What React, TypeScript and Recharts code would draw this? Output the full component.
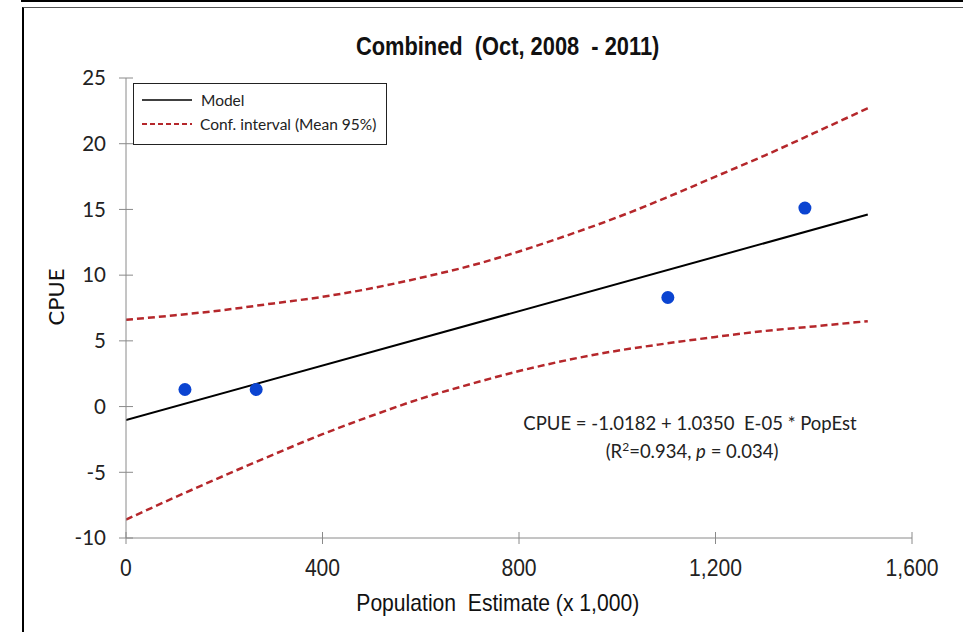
import React from 'react'
import { ComposedChart, Line, Scatter, XAxis, YAxis } from 'recharts'

// observed points (x in thousands)
const popEst = [120, 265, 1103, 1382]
const cpue = [1.3, 1.3, 8.3, 15.1]

// fitted model line
const modelX = [0, 1510]
const modelY = [-1.02, 14.61]

// 95% confidence band
const ciX = [0, 100, 200, 300, 400, 500, 600, 700, 800, 900, 1000, 1100, 1200, 1300, 1400, 1510]
const ciUpper = [6.6, 6.95, 7.35, 7.85, 8.35, 9.0, 9.8, 10.7, 11.8, 13.05, 14.4, 15.9, 17.5, 19.1, 20.8, 22.7]
const ciLower = [-8.6, -6.9, -5.25, -3.65, -2.1, -0.7, 0.6, 1.7, 2.7, 3.55, 4.25, 4.8, 5.3, 5.75, 6.1, 6.5]

const xTicks = [0, 400, 800, 1200, 1600]
const yTicks = [-10, -5, 0, 5, 10, 15, 20, 25]

const points = popEst.map((x, i) => ({ x, y: cpue[i] }))
const model = modelX.map((x, i) => ({ x, y: modelY[i] }))
const upper = ciX.map((x, i) => ({ x, y: ciUpper[i] }))
const lower = ciX.map((x, i) => ({ x, y: ciLower[i] }))

const AXIS = '#8a8a8a'
const RED = '#b5272b'
const calibri = 'Lato, "Open Sans", sans-serif'
const arial = '"Liberation Sans", Arial, sans-serif'

function XTick(props: any) {
  const { x, y, payload } = props
  const axisY = y - 22
  return (
    <g>
      <line x1={x} x2={x} y1={axisY - 6} y2={axisY + 6} stroke={AXIS} />
      <text x={x} y={y} dy="0.68em" textAnchor="middle" fill="#222" fontSize={24} fontFamily={arial}
        transform={`translate(${x} 0) scale(0.88 1) translate(${-x} 0)`}>
        {payload.value.toLocaleString('en-US')}
      </text>
    </g>
  )
}

function YTick(props: any) {
  const { x, y, payload } = props
  const axisX = x + 20
  return (
    <g>
      <line x1={axisX - 7} x2={axisX + 7} y1={y} y2={y} stroke={AXIS} />
      <text x={x} y={y} dy="0.355em" textAnchor="end" fill="#222" fontSize={20.5} fontFamily={calibri}>
        {payload.value}
      </text>
    </g>
  )
}

export default function App() {
  return (
    <div style={{ position: 'absolute', left: 0, top: 0, width: 963, height: 632, background: '#fff', overflow: 'hidden' }}>
      <div style={{ position: 'absolute', left: 21, top: 0, right: 0, height: 2, background: '#000' }} />
      <div style={{ position: 'absolute', left: 22, top: 7, width: 1000, height: 700, borderLeft: '2px solid #000', borderTop: '1px solid #555' }} />

      <ComposedChart width={963} height={632} margin={{ top: 78, right: 51, bottom: 64, left: 66 }}
        style={{ position: 'absolute', left: 0, top: 0 }}>
        <XAxis type="number" dataKey="x" domain={[0, 1600]} ticks={xTicks} height={30}
          stroke={AXIS} tickLine={false} tickSize={6} tickMargin={16} tick={<XTick />} allowDataOverflow />
        <YAxis type="number" dataKey="y" domain={[-10, 25]} ticks={yTicks} width={60}
          stroke={AXIS} tickLine={false} tickSize={6} tickMargin={14} tick={<YTick />} allowDataOverflow />
        <Line data={upper} dataKey="y" type="monotone" stroke={RED} strokeWidth={2.5} strokeDasharray="7 4"
          dot={false} isAnimationActive={false} />
        <Line data={lower} dataKey="y" type="monotone" stroke={RED} strokeWidth={2.5} strokeDasharray="7 4"
          dot={false} isAnimationActive={false} />
        <Line data={model} dataKey="y" type="linear" stroke="#000" strokeWidth={2}
          dot={false} isAnimationActive={false} />
        <Scatter data={points} dataKey="y" fill="#0b44d1" isAnimationActive={false}
          shape={(p: any) => <circle cx={p.cx} cy={p.cy} r={6.5} fill="#0b44d1" />} />
      </ComposedChart>

      <div style={{ position: 'absolute', left: 0, width: 1016, top: 31, textAlign: 'center' }}>
        <span style={{ display: 'inline-block', transform: 'scaleX(0.84)', fontFamily: arial, fontWeight: 700,
          fontSize: 26, color: '#111', whiteSpace: 'pre' }}>
          {'Combined  (Oct, 2008  - 2011)'}
        </span>
      </div>

      <div style={{ position: 'absolute', left: 0, top: 297, width: 110, transform: 'translate(0,-50%) rotate(-90deg)',
        transformOrigin: '55px 50%', textAlign: 'center', fontFamily: calibri, fontSize: 22, color: '#111' }}>
        CPUE
      </div>

      <div style={{ position: 'absolute', left: 0, width: 996, top: 589, textAlign: 'center' }}>
        <span style={{ display: 'inline-block', transform: 'scaleX(0.88)', fontFamily: arial, fontSize: 24,
          color: '#111', whiteSpace: 'pre' }}>
          {'Population  Estimate (x 1,000)'}
        </span>
      </div>

      <div style={{ position: 'absolute', left: 133, top: 83, width: 252, height: 60, border: '1px solid #222',
        background: '#fff', fontFamily: calibri, fontSize: 15.5, color: '#222' }}>
        <div style={{ position: 'absolute', left: 8, top: 7, display: 'flex', alignItems: 'center' }}>
          <svg width={50} height={10}><line x1={0} x2={50} y1={5} y2={5} stroke="#000" strokeWidth={1.3} /></svg>
          <span style={{ marginLeft: 9 }}>Model</span>
        </div>
        <div style={{ position: 'absolute', left: 8, top: 31, display: 'flex', alignItems: 'center', whiteSpace: 'nowrap' }}>
          <svg width={50} height={10}><line x1={0} x2={50} y1={5} y2={5} stroke={RED} strokeWidth={2} strokeDasharray="5 3" /></svg>
          <span style={{ marginLeft: 8 }}>Conf. interval (Mean 95%)</span>
        </div>
      </div>

      <div style={{ position: 'absolute', left: 490, width: 400, top: 409, textAlign: 'center', fontFamily: calibri,
        fontSize: 18.5, color: '#222', lineHeight: '28px' }}>
        <div>CPUE = -1.0182 + 1.0350&nbsp; E-05 * PopEst</div>
        <div style={{ paddingLeft: 4 }}>(R<sup style={{ fontSize: 12, verticalAlign: 'top', lineHeight: '20px' }}>2</sup>=0.934, <i>p</i> = 0.034)</div>
      </div>
    </div>
  )
}
